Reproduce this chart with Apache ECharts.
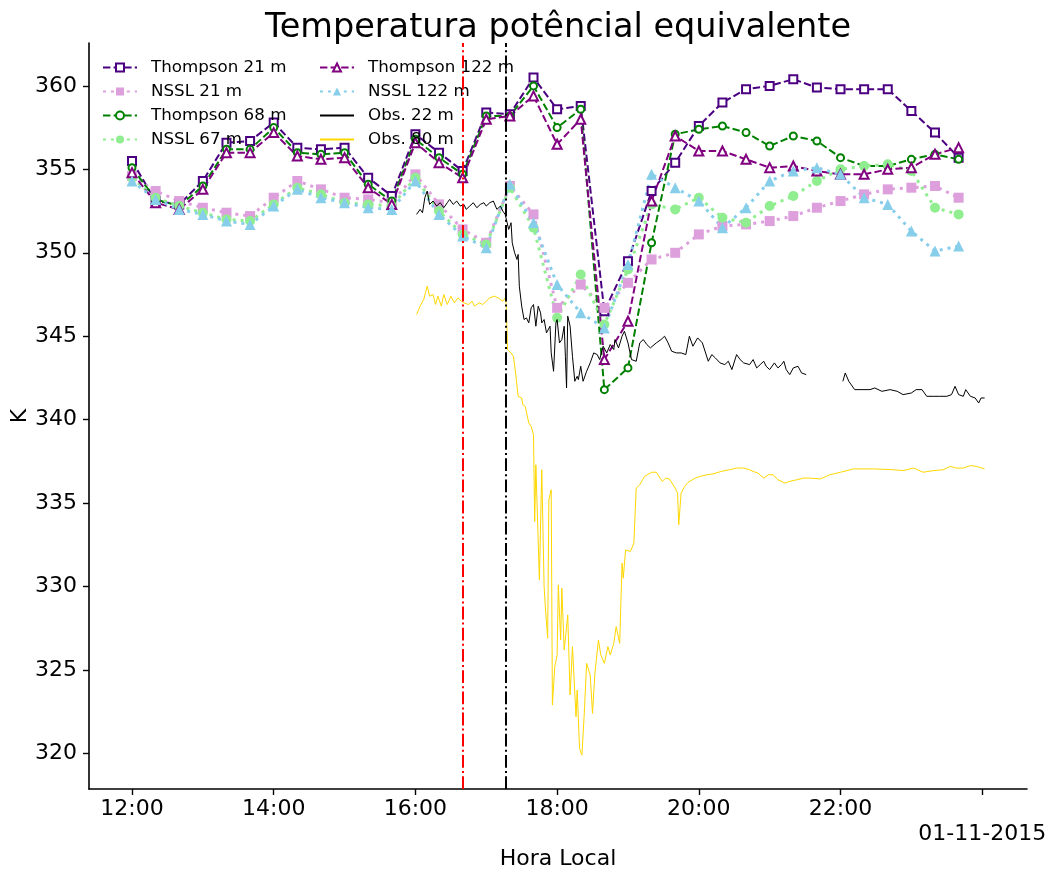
<!DOCTYPE html>
<html><head><meta charset="utf-8">
<script src="https://cdn.jsdelivr.net/npm/echarts@6/dist/echarts.min.js"></script>
<style>html,body{margin:0;padding:0;background:#fff}#c{width:1053px;height:871px}</style>
</head><body><div id="c"></div>
<script>
const modelTimes = ["12:00","12:20","12:40","13:00","13:20","13:40","14:00","14:20","14:40","15:00","15:20","15:40","16:00","16:20","16:40","17:00","17:20","17:40","18:00","18:20","18:40","19:00","19:20","19:40","20:00","20:20","20:40","21:00","21:20","21:40","22:00","22:20","22:40","23:00","23:20","23:40"];
const thompson21 = [355.5,353.1,352.9,354.3,356.6,356.7,357.8,356.3,356.2,356.3,354.5,353.4,357.1,356.0,354.9,358.4,358.3,360.5,358.6,358.8,346.5,349.5,353.7,355.4,357.6,359.0,359.8,360.0,360.4,359.9,359.8,359.8,359.8,358.5,357.2,355.7];
const nssl21 = [354.6,353.7,353.1,352.7,352.4,352.2,353.3,354.3,353.8,353.3,353.2,353.0,354.7,352.9,351.4,350.6,354.0,352.3,346.7,348.1,346.7,348.2,349.6,350.0,351.1,351.6,351.7,351.9,352.2,352.7,353.1,353.5,353.8,353.9,354.0,353.3];
const thompson68 = [355.1,353.2,352.8,354.0,356.2,356.2,357.5,356.0,355.9,356.0,354.1,353.1,356.8,355.7,354.7,358.2,358.2,360.0,357.5,358.6,341.8,343.1,350.6,357.1,357.4,357.6,357.2,356.4,357.0,356.7,355.7,355.2,355.2,355.6,355.9,355.6];
const nssl67 = [354.5,353.3,352.8,352.4,352.0,351.9,352.9,353.9,353.5,353.0,352.9,352.8,354.5,352.5,351.1,350.5,353.9,351.5,346.1,348.7,345.7,349.0,352.9,352.6,353.3,352.1,351.8,352.8,353.4,354.3,355.0,355.2,355.3,354.9,352.7,352.3];
const thompson122 = [354.8,353.0,352.6,353.8,356.0,356.0,357.2,355.8,355.6,355.7,353.9,352.9,356.6,355.4,354.5,358.0,358.2,359.4,356.5,358.0,343.6,345.9,353.1,357.0,356.1,356.1,355.6,355.1,355.2,354.9,354.7,354.7,355.0,355.1,355.9,356.3];
const nssl122 = [354.3,353.2,352.6,352.3,351.9,351.7,352.8,353.8,353.3,353.0,352.7,352.6,354.3,352.3,351.0,350.3,354.1,351.8,348.1,346.4,345.5,349.3,354.7,353.9,353.1,351.5,352.7,354.3,354.9,355.1,354.7,353.3,352.9,351.3,350.1,350.4];

const obs22Times = ["16:01","16:04","16:06","16:08","16:10","16:12","16:15","16:18","16:21","16:24","16:27","16:29","16:32","16:35","16:38","16:41","16:43","16:46","16:49","16:52","16:55","16:58","17:00","17:03","17:06","17:09","17:12","17:14","17:16","17:17","17:19","17:21","17:22","17:24","17:26","17:27","17:28","17:30","17:32","17:34","17:36","17:38","17:40","17:42","17:44","17:46","17:47","17:49","17:51","17:54","17:55","17:57","17:59","18:00","18:02","18:04","18:06","18:07","18:08","18:09","18:11","18:13","18:15","18:17","18:18","18:20","18:22","18:25","18:28","18:31","18:34","18:36","18:39","18:42","18:45","18:48","18:49","18:52","18:55","18:57","19:00","19:03","19:07","19:10","19:13","19:16","19:19","19:24","19:28","19:31","19:34","19:37","19:41","19:45","19:49","19:52","19:55","19:59","20:03","20:08","20:11","20:14","20:18","20:22","20:25","20:28","20:32","20:35","20:38","20:43","20:46","20:49","20:52","20:55","20:57","21:00","21:04","21:07","21:10","21:12","21:14","21:17","21:20","21:24","21:27","21:31","21:45","22:02","22:04","22:07","22:12","22:19","22:25","22:29","22:35","22:42","22:48","22:53","23:00","23:04","23:09","23:13","23:19","23:24","23:30","23:34","23:37","23:40","23:44","23:46","23:50","23:54","23:57","23:59","24:02"];
const obs22Values = [352.3,352.6,352.4,353.3,353.7,352.9,353.1,352.8,353.0,352.7,353.0,353.2,352.9,353.1,352.8,352.9,352.6,352.8,353.0,352.7,352.9,353.0,352.8,353.0,353.1,352.6,352.8,352.5,352.3,352.2,351.4,351.8,350.6,350.0,349.6,349.9,348.0,346.8,346.0,346.1,345.8,346.7,346.9,345.6,346.8,346.4,345.8,346.0,345.2,345.6,344.0,342.9,345.8,346.0,344.6,344.8,345.6,343.8,341.9,346.2,345.6,343.8,342.3,342.6,342.4,343.2,342.3,342.9,343.4,344.0,343.9,343.6,344.4,344.0,344.5,344.2,344.8,344.3,345.0,345.3,344.6,343.6,343.5,344.6,344.8,344.5,344.3,344.6,344.8,345.0,344.6,344.1,344.0,344.0,343.9,345.0,344.4,344.9,344.6,343.5,343.9,343.7,343.4,343.3,343.5,343.0,343.9,343.6,343.4,343.3,343.6,343.1,343.3,343.5,343.2,343.0,343.4,343.1,343.3,343.5,343.0,342.7,343.1,343.2,342.8,342.7,null,342.3,342.8,342.3,341.8,341.8,341.8,341.9,341.7,341.8,341.7,341.5,341.6,341.8,341.8,341.4,341.4,341.4,341.4,341.5,342.0,341.5,341.4,341.8,341.4,341.3,341.0,341.3,341.3];

const obs80Times = ["16:01","16:04","16:07","16:10","16:12","16:15","16:17","16:19","16:22","16:24","16:27","16:30","16:33","16:36","16:39","16:41","16:45","16:48","16:50","16:54","16:57","17:00","17:03","17:07","17:10","17:14","17:16","17:17","17:18","17:21","17:23","17:25","17:27","17:30","17:31","17:33","17:36","17:38","17:40","17:41","17:42","17:45","17:47","17:49","17:50","17:52","17:53","17:55","17:56","17:58","18:00","18:01","18:03","18:04","18:06","18:09","18:11","18:13","18:14","18:16","18:17","18:19","18:21","18:23","18:25","18:28","18:30","18:32","18:35","18:37","18:40","18:43","18:45","18:48","18:50","18:53","18:55","18:56","18:58","19:02","19:05","19:07","19:10","19:14","19:20","19:24","19:29","19:32","19:35","19:40","19:42","19:43","19:45","19:48","19:51","19:57","20:01","20:07","20:12","20:19","20:26","20:32","20:38","20:43","20:46","20:50","20:55","20:59","21:03","21:07","21:13","21:17","21:23","21:29","21:34","21:43","21:51","22:00","22:11","22:28","22:45","22:53","23:02","23:10","23:19","23:27","23:33","23:38","23:44","23:50","23:55","24:02"];
const obs80Values = [346.3,346.8,347.2,348.0,347.4,347.5,346.9,347.4,346.8,347.5,346.9,347.4,347.0,347.3,347.1,347.0,346.9,347.1,346.8,347.0,346.9,347.1,347.3,347.4,347.3,347.1,347.3,346.9,344.2,344.0,343.8,342.7,341.4,341.3,340.9,340.8,339.8,339.6,339.1,333.9,337.3,330.4,337.0,330.0,328.8,326.9,335.2,335.8,322.9,325.2,325.9,330.1,326.8,329.9,326.2,328.3,323.5,326.4,325.0,322.2,323.8,320.3,319.9,322.4,325.4,324.7,322.4,324.8,326.8,325.9,325.4,326.4,325.9,326.6,327.6,326.6,331.4,330.5,332.2,332.1,332.6,335.9,336.1,336.6,336.85,336.85,336.3,336.5,336.45,335.9,335.6,333.7,335.6,336.0,336.25,336.5,336.6,336.7,336.75,336.9,337.0,337.1,337.1,337.0,336.9,336.8,336.5,336.7,336.7,336.4,336.2,336.3,336.4,336.5,336.5,336.45,336.7,336.85,337.05,337.05,337.0,336.95,337.1,336.85,336.95,337.0,337.2,337.1,337.1,337.25,337.2,337.05];

const eventTimes = ["16:40","17:16"];
const eventColors = ["#ff0000","#000000"];
const xTicks = [12,14,16,18,20,22,24];
const yTicks = [320,325,330,335,340,345,350,355,360];
const dateLabel = "01-11-2015";
const legendCol1 = ['Thompson 21 m','NSSL 21 m','Thompson 68 m','NSSL 67 m'];
const legendCol2 = ['Thompson 122 m','NSSL 122 m','Obs. 22 m','Obs. 80 m'];
const obsNames = ['Obs. 22 m','Obs. 80 m'];

function toH(s){const p=s.split(':');return (+p[0])+(+p[1])/60;}
const FONT = 'DejaVu Sans';

function modelSeries(name, vals, color, symbol, size, dotted){
  return {
    name, type:'line', data: modelTimes.map((t,i)=>[toH(t), vals[i]]),
    symbol, symbolSize: size, showAllSymbol:true,
    lineStyle:{color, width: dotted?3:2, type: dotted?[3,4.95]:[7.4,3.2]},
    itemStyle:{color, borderColor:color, borderWidth: dotted?0:1.8},
    emphasis:{disabled:true}, z: 2
  };
}
function obsSeries(name, times, vals, color){
  return {
    name, type:'line', data: times.map((t,i)=>[toH(t), vals[i]===null?'-':vals[i]]),
    symbol:'none', connectNulls:false,
    lineStyle:{color, width:1}, itemStyle:{color},
    emphasis:{disabled:true}, z: 3
  };
}
function makeLegend(left, names){
  return {orient:'vertical', left, top:54, itemGap:7, itemWidth:34, itemHeight:10,
    selectedMode:false,
    data:names.map(n => obsNames.includes(n) ? {name:n, itemStyle:{opacity:0}} : {name:n}),
    textStyle:{fontSize:16.7, color:'#000', fontFamily:FONT, lineHeight:17, padding:[0,0,0,9]}};
}

const chart = echarts.init(document.getElementById('c'), null, {renderer:'canvas'});
chart.setOption({
  animation:false,
  backgroundColor:'#fff',
  textStyle:{fontFamily:FONT},
  title:{text:'Temperatura potêncial equivalente', left:553, textAlign:'center', top:6,
    textStyle:{fontSize:33.5, fontWeight:'normal', color:'#000', fontFamily:FONT}},
  grid:{left:89, right:26, top:43, bottom:82, containLabel:false, outerBoundsMode:'none'},
  legend:[ makeLegend(97, legendCol1), makeLegend(314, legendCol2) ],
  xAxis:{type:'value', min:11.393, max:24.632,
    name:'Hora Local', nameLocation:'middle', nameGap:59, nameMoveOverlap:false,
    nameTextStyle:{fontSize:22, color:'#000', fontFamily:FONT},
    axisLine:{show:true, onZero:false, lineStyle:{color:'#000', width:1.6}},
    axisTick:{show:true, inside:false, length:6, lineStyle:{color:'#000', width:1.4}, customValues:xTicks},
    axisLabel:{color:'#000', fontSize:22, fontFamily:FONT, margin:8, lineHeight:25, customValues:xTicks,
      formatter:(v)=> v===24 ? '\n'+dateLabel : (String(Math.round(v)).padStart(2,'0')+':00')},
    splitLine:{show:false}},
  yAxis:{type:'value', min:317.87, max:362.57,
    name:'K', nameLocation:'middle', nameGap:58, nameRotate:90, nameMoveOverlap:false,
    nameTextStyle:{fontSize:22, color:'#000', fontFamily:FONT},
    axisLine:{show:true, onZero:false, lineStyle:{color:'#000', width:1.6}},
    axisTick:{show:true, inside:false, length:6, lineStyle:{color:'#000', width:1.4}, customValues:yTicks},
    axisLabel:{color:'#000', fontSize:22, fontFamily:FONT, margin:12, customValues:yTicks},
    splitLine:{show:false}},
  series:[
    modelSeries('Thompson 21 m', thompson21, '#4b0082', 'emptyRect', 8, false),
    modelSeries('NSSL 21 m', nssl21, '#dda0dd', 'rect', 10, true),
    modelSeries('Thompson 68 m', thompson68, '#008000', 'emptyCircle', 7, false),
    modelSeries('NSSL 67 m', nssl67, '#90ee90', 'circle', 10, true),
    modelSeries('Thompson 122 m', thompson122, '#800080', 'emptyTriangle', 9, false),
    modelSeries('NSSL 122 m', nssl122, '#87ceeb', 'triangle', 11, true),
    obsSeries('Obs. 22 m', obs22Times, obs22Values, '#000000'),
    obsSeries('Obs. 80 m', obs80Times, obs80Values, '#ffd700'),
    {name:'eventos', type:'line', data:[], symbol:'none', z:5,
     markLine:{silent:true, symbol:['none','none'], label:{show:false}, animation:false,
       data: eventTimes.map((t,i)=>({xAxis: toH(t), lineStyle:{color:eventColors[i], width:2, type:[12.8,3.2,2,3.2]}}))}}
  ]
});
</script></body></html>
